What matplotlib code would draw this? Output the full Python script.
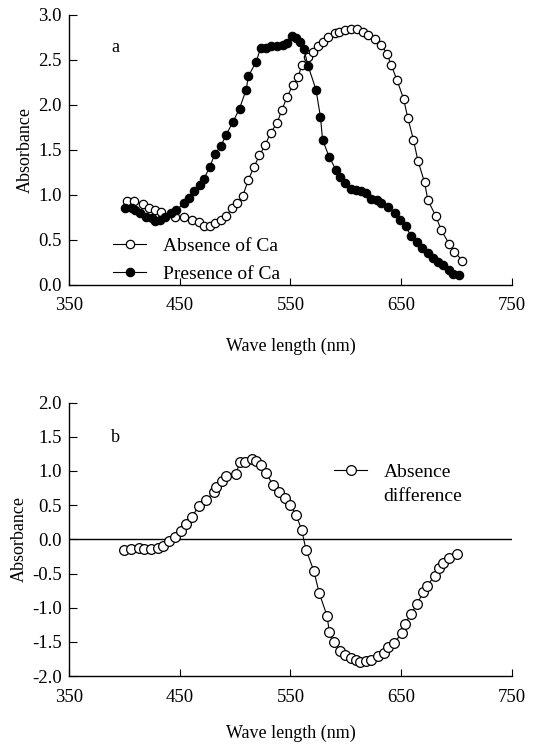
import matplotlib
matplotlib.use("Agg")
import matplotlib.pyplot as plt

plt.rcParams["font.family"] = ["Liberation Serif", "DejaVu Serif"]

# panel a: absence of Ca (open circles)
wl_abs = [402, 409, 417, 422, 428, 433, 446, 454, 461, 467, 472, 477, 482, 487,
          492, 497, 502, 507, 512, 517, 522, 527, 532, 538, 542, 547, 552, 557,
          560, 566, 570, 575, 579, 584, 590, 594, 599, 605, 610, 615, 620, 626,
          632, 637, 641, 646, 652, 656, 661, 665, 671, 674, 681, 686, 693, 698, 705]
a_abs = [0.93, 0.93, 0.90, 0.86, 0.83, 0.81, 0.76, 0.75, 0.72, 0.70, 0.66, 0.65,
         0.69, 0.72, 0.77, 0.85, 0.91, 0.99, 1.17, 1.31, 1.44, 1.55, 1.69, 1.80,
         1.94, 2.09, 2.22, 2.31, 2.44, 2.53, 2.59, 2.65, 2.70, 2.76, 2.80, 2.81,
         2.83, 2.84, 2.84, 2.81, 2.78, 2.73, 2.67, 2.57, 2.44, 2.28, 2.07, 1.85,
         1.61, 1.38, 1.14, 0.94, 0.77, 0.61, 0.46, 0.37, 0.27]

# panel a: presence of Ca (filled circles)
wl_pre = [401, 407, 410, 414, 420, 425, 428, 432, 437, 442, 447, 454, 458, 463,
          468, 472, 477, 482, 487, 492, 498, 504, 510, 512, 519, 523, 528, 532,
          538, 543, 547, 551, 555, 559, 562, 566, 573, 577, 579, 585, 591, 595,
          599, 605, 609, 614, 618, 623, 628, 632, 638, 644, 649, 654, 659, 664,
          669, 674, 679, 683, 688, 693, 697, 702]
a_pre = [0.85, 0.85, 0.83, 0.80, 0.76, 0.74, 0.71, 0.72, 0.76, 0.80, 0.83, 0.91,
         0.97, 1.04, 1.11, 1.18, 1.31, 1.46, 1.54, 1.67, 1.81, 1.96, 2.17, 2.32,
         2.48, 2.63, 2.63, 2.65, 2.65, 2.67, 2.69, 2.77, 2.74, 2.70, 2.62, 2.43,
         2.17, 1.87, 1.61, 1.42, 1.28, 1.20, 1.13, 1.07, 1.06, 1.04, 1.02, 0.96,
         0.94, 0.91, 0.87, 0.80, 0.72, 0.65, 0.54, 0.48, 0.41, 0.35, 0.30, 0.26,
         0.22, 0.17, 0.12, 0.11]

# panel b: absence difference
wl_diff = [400, 406, 413, 418, 424, 430, 435, 440, 446, 451, 456, 461, 467, 474,
           481, 483, 488, 492, 501, 504, 509, 515, 519, 523, 528, 534, 540, 545,
           550, 555, 560, 564, 571, 576, 583, 585, 589, 595, 599, 605, 609, 613,
           618, 623, 629, 634, 638, 643, 651, 653, 659, 664, 670, 673, 680, 684,
           688, 693, 700]
a_diff = [-0.15, -0.14, -0.13, -0.14, -0.14, -0.13, -0.10, -0.03, 0.04, 0.12,
          0.22, 0.32, 0.49, 0.58, 0.69, 0.77, 0.86, 0.93, 0.96, 1.13, 1.13, 1.18,
          1.15, 1.09, 0.97, 0.80, 0.69, 0.60, 0.50, 0.36, 0.14, -0.15, -0.46,
          -0.79, -1.12, -1.35, -1.50, -1.63, -1.69, -1.73, -1.77, -1.79, -1.78,
          -1.76, -1.71, -1.66, -1.58, -1.52, -1.37, -1.24, -1.09, -0.95, -0.77,
          -0.68, -0.54, -0.42, -0.35, -0.28, -0.22]

x_ticks = [350, 450, 550, 650, 750]

fig = plt.figure(figsize=(5.34, 7.47), dpi=100)
ax1 = fig.add_axes([0.129, 0.6185, 0.830, 0.3615])
ax2 = fig.add_axes([0.129, 0.095, 0.830, 0.366])


def style(ax):
    for s in ("top", "right"):
        ax.spines[s].set_visible(False)
    for s in ("left", "bottom"):
        ax.spines[s].set_linewidth(1.0)
    ax.set_xlim(350, 750)
    ax.set_xticks(x_ticks)
    ax.tick_params(axis="x", direction="in", length=5, pad=9, labelsize=13.5)
    ax.tick_params(axis="y", direction="in", length=6, pad=5, labelsize=13.5)
    ax.set_ylabel("Absorbance", fontsize=13, labelpad=3)


# panel a
ax1.plot(wl_abs, a_abs, "-o", color="black", lw=0.8, ms=6,
         mfc="white", mec="black", mew=0.9, label="Absence of Ca")
ax1.plot(wl_pre, a_pre, "-o", color="black", lw=0.8, ms=6,
         mfc="black", mec="black", mew=0.9, label="Presence of Ca")
style(ax1)
ax1.set_ylim(0, 3.0)
ax1.set_yticks([0, 0.5, 1.0, 1.5, 2.0, 2.5, 3.0])
ax1.set_yticklabels(["0.0", "0.5", "1.0", "1.5", "2.0", "2.5", "3.0"])
ax1.set_xlabel("Wave length (nm)", fontsize=13, labelpad=17)
ax1.text(0.104, 0.878, "a", transform=ax1.transAxes, fontsize=13,
         ha="center", va="center")
ax1.legend(loc="lower left", bbox_to_anchor=(0.065, -0.05), frameon=False,
           fontsize=14, handlelength=1.7, handletextpad=0.85,
           labelspacing=0.55, borderpad=0.3)

# panel b
ax2.plot(wl_diff, a_diff, "-o", color="black", lw=0.8, ms=7,
         mfc="white", mec="black", mew=0.9, label="Absence")
style(ax2)
ax2.axhline(0, color="black", lw=1.0, zorder=0)
ax2.set_ylim(-2.0, 2.0)
ax2.set_yticks([-2.0, -1.5, -1.0, -0.5, 0, 0.5, 1.0, 1.5, 2.0])
ax2.set_yticklabels(["-2.0", "-1.5", "-1.0", "-0.5", "0.0", "0.5", "1.0",
                     "1.5", "2.0"])
ax2.set_xlabel("Wave length (nm)", fontsize=13, labelpad=14)
ax2.text(0.104, 0.871, "b", transform=ax2.transAxes, fontsize=13,
         ha="center", va="center")
ax2.legend(loc="upper left", bbox_to_anchor=(0.563, 0.835), frameon=False,
           fontsize=14, handlelength=1.7, handletextpad=0.85, borderpad=0.3)
ax2.text(0.709, 0.656, "difference", transform=ax2.transAxes, fontsize=14,
         ha="left", va="center")

fig.savefig("out.png", dpi=100)
